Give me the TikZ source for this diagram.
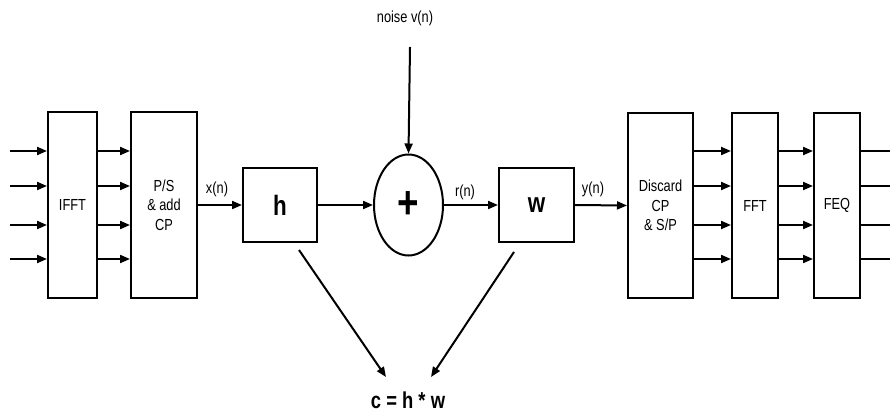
\documentclass[tikz,border=0pt]{standalone}
\usepackage{fontspec}
\setmainfont[FakeStretch=0.8]{Liberation Sans}
\usetikzlibrary{arrows.meta,shapes.geometric}
\begin{document}
\begin{tikzpicture}[x=1pt,y=-1pt,
  line width=2pt,
  blk/.style={draw, line width=2pt, rectangle, inner sep=0pt, align=center, font=\fontsize{16}{19.5}\selectfont},
  lbl/.style={font=\fontsize{16}{18}\selectfont, inner sep=1pt},
  arr/.style={-{Triangle[length=10pt,width=8pt]}},
  big/.style={font=\fontsize{28}{30}\selectfont\bfseries}
]
\useasboundingbox (0,0) rectangle (890,414);
% blocks
\node[blk, minimum width=49pt, minimum height=186pt] (ifft) at (72.5,205) {IFFT};
\node[blk, minimum width=66pt, minimum height=186pt] (ps) at (164,205) {P/S\\\& add\\CP};
\node[blk, minimum width=74pt, minimum height=74pt, big] (h) at (280,205) {h};
\node[draw, ellipse, line width=2pt, minimum width=69pt, minimum height=101pt, inner sep=0pt, font=\fontsize{46}{46}\selectfont\bfseries] (add) at (408.5,205) {+};
\node[blk, minimum width=75pt, minimum height=74pt, big] (w) at (536.5,205) {w};
\node[blk, minimum width=65pt, minimum height=185pt] (dis) at (660.5,205.5) {Discard\\CP\\\& S/P};
\node[blk, minimum width=46pt, minimum height=185pt] (fft) at (755,205.5) {FFT};
\node[blk, minimum width=46pt, minimum height=185pt] (feq) at (837,205.5) {FEQ};
% parallel lines
\foreach \yy in {151,186,225,259} {
  \coordinate (in\yy) at (10,\yy);
  \coordinate (out\yy) at (890,\yy);
  \draw[arr] (in\yy) -- (ifft.west |- in\yy);
  \draw[arr] (ifft.east |- in\yy) -- (ps.west |- in\yy);
  \draw[arr] (dis.east |- in\yy) -- (fft.west |- in\yy);
  \draw[arr] (fft.east |- in\yy) -- (feq.west |- in\yy);
  \draw (feq.east |- in\yy) -- (out\yy);
}
% serial chain
\draw[arr] (ps.east) -- (h.west);
\draw[arr] (h.east) -- (add.west);
\draw[arr] (add.east) -- (w.west);
\draw[arr] (w.east) -- (dis.west);
\node[lbl] (xn) at (217,189) {x(n)};
\node[lbl] (rn) at (465,192) {r(n)};
\node[lbl] (yn) at (593,189) {y(n)};
% noise
\node[lbl] (noise) at (405,18) {noise v(n)};
\coordinate (nstart) at (410,47);
\draw[arr] (nstart) -- (add.north);
% combined channel
\node[font=\fontsize{23}{25}\selectfont\bfseries] (c) at (408,400) {c = h * w};
\coordinate (hs) at (299,250);
\coordinate (ws) at (514,252);
\coordinate (he) at (386,377);
\coordinate (we) at (431,377);
\draw[arr] (hs) -- (he);
\draw[arr] (ws) -- (we);
\end{tikzpicture}
\end{document}
